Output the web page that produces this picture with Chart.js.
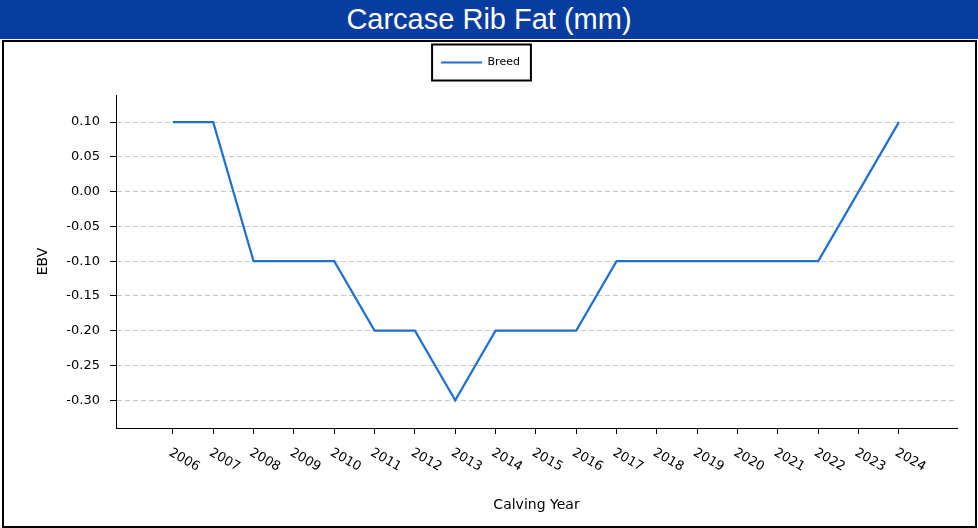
<!DOCTYPE html>
<html>
<head>
<meta charset="utf-8">
<title>Carcase Rib Fat (mm)</title>
<script src="https://cdn.jsdelivr.net/npm/chart.js@4"></script>
<style>
    body { margin: 0; background: #fff; width: 978px; height: 528px; position: relative; overflow: hidden; }
    #banner {
        position: absolute; left: 0; top: 0; width: 978px; height: 39px;
        background: #073ca0; color: #fff; text-align: center;
        font-family: "Liberation Sans", Arial, sans-serif; font-size: 29px; line-height: 39px;
    }
    #frame {
        position: absolute; left: 2px; top: 40px; width: 975px; height: 488px;
        border: 2px solid #000; box-sizing: border-box;
    }
    #ribFatChart { position: absolute; left: 0; top: 0; }
</style>
</head>
<body>
<div id="banner">Carcase Rib Fat (mm)</div>
<div id="frame">
    <canvas id="ribFatChart" width="971" height="484"></canvas>
</div>
<script>
// Chart data
const calvingYears = [2006, 2007, 2008, 2009, 2010, 2011, 2012, 2013, 2014, 2015,
    2016, 2017, 2018, 2019, 2020, 2021, 2022, 2023, 2024];
const breedEbv = [0.10, 0.10, -0.10, -0.10, -0.10, -0.20, -0.20, -0.30, -0.20, -0.20,
    -0.20, -0.10, -0.10, -0.10, -0.10, -0.10, -0.10, 0.00, 0.10];
const ebvTicks = [0.10, 0.05, 0.00, -0.05, -0.10, -0.15, -0.20, -0.25, -0.30];

const lineColor = '#1f6fd0';
const tickFont = { family: 'DejaVu Sans', size: 13 };

// x-axis with labels that start at the tick and slope down to the right
class SlopedLinearScale extends Chart.LinearScale {
    _getXAxisLabelAlignment() {
        return 'left';
    }
}
SlopedLinearScale.id = 'slopedLinear';
SlopedLinearScale.defaults = Chart.LinearScale.defaults;
Chart.register(SlopedLinearScale);

// Extra room under the legend and a box round it
const legendFrame = {
    id: 'legendFrame',
    beforeInit(chart) {
        const origFit = chart.legend.fit;
        chart.legend.fit = function () {
            origFit.call(this);
            this.height += 17;
        };
    },
    afterDraw(chart) {
        const hb = chart.legend.legendHitBoxes[0];
        if (!hb) return;
        const ctx = chart.ctx;
        const cy = hb.top + hb.height / 2;
        ctx.save();
        ctx.strokeStyle = '#000';
        ctx.lineWidth = 2;
        ctx.strokeRect(hb.left - 9, cy - 18, hb.width + 20, 36);
        ctx.restore();
    }
};

const ctx = document.getElementById('ribFatChart').getContext('2d');
new Chart(ctx, {
    type: 'line',
    data: {
        datasets: [{
            label: 'Breed',
            data: calvingYears.map((year, i) => ({ x: year, y: breedEbv[i] })),
            borderColor: lineColor,
            backgroundColor: lineColor,
            borderWidth: 2.2,
            pointRadius: 0,
            tension: 0,
        }],
    },
    options: {
        responsive: false,
        animation: false,
        maintainAspectRatio: false,
        devicePixelRatio: 1,
        layout: { padding: { left: 0, right: 18, top: 0, bottom: 0 } },
        plugins: {
            legend: {
                position: 'top',
                labels: {
                    boxWidth: 41,
                    boxHeight: 2,
                    padding: 15,
                    color: '#000',
                    font: { family: 'DejaVu Sans', size: 11 },
                    generateLabels: (chart) => [{
                        text: 'Breed',
                        fillStyle: lineColor,
                        strokeStyle: lineColor,
                        lineWidth: 0,
                        datasetIndex: 0,
                    }],
                },
            },
            tooltip: { enabled: false },
        },
        scales: {
            x: {
                type: 'slopedLinear',
                min: 2004.59,
                max: 2025.44,
                afterBuildTicks: (scale) => {
                    scale.ticks = calvingYears.map((v) => ({ value: v }));
                },
                afterFit: (scale) => { scale.height = 98; },
                ticks: {
                    autoSkip: false,
                    minRotation: -30,
                    maxRotation: -30,
                    padding: 11,
                    labelOffset: -3,
                    color: '#000',
                    font: tickFont,
                    callback: (value) => String(value),
                },
                grid: {
                    drawOnChartArea: false,
                    color: '#000',
                    tickColor: '#000',
                    tickLength: 6,
                },
                border: { display: true, color: '#000', width: 1 },
                title: {
                    display: true,
                    text: 'Calving Year',
                    color: '#000',
                    font: { family: 'DejaVu Sans', size: 14 },
                    padding: { top: 0, bottom: 12 },
                },
            },
            y: {
                min: -0.34,
                max: 0.139,
                afterBuildTicks: (scale) => {
                    scale.ticks = ebvTicks.map((v) => ({ value: v }));
                },
                afterFit: (scale) => { scale.width = 112; },
                ticks: {
                    autoSkip: false,
                    padding: 10,
                    color: '#000',
                    font: tickFont,
                    callback: (value) => value.toFixed(2),
                },
                grid: {
                    color: '#c8c8c8',
                    lineWidth: 1,
                    tickColor: '#000',
                    tickLength: 6,
                    tickBorderDash: [],
                },
                border: { display: true, color: '#000', width: 1, dash: [5, 3] },
                title: {
                    display: true,
                    text: 'EBV',
                    color: '#000',
                    font: { family: 'DejaVu Sans', size: 14 },
                    padding: { top: 31, bottom: 0 },
                },
            },
        },
    },
    plugins: [legendFrame],
});
</script>
</body>
</html>
